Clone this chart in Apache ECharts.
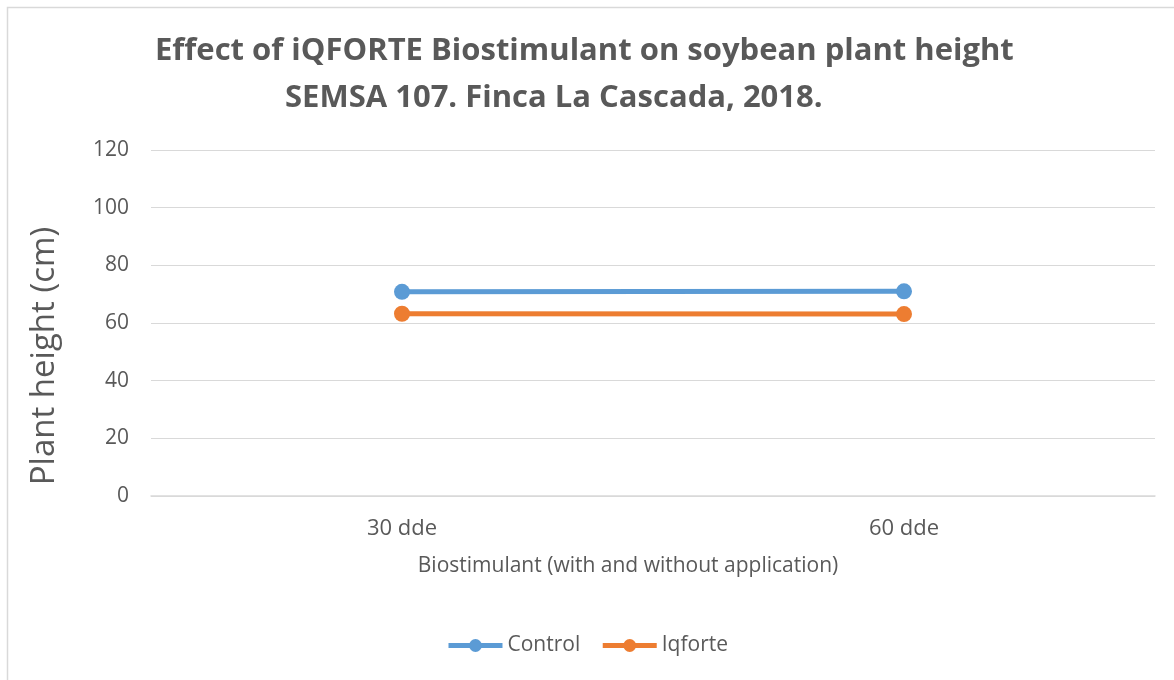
<!DOCTYPE html>
<html><head><meta charset="utf-8">
<script src="https://cdn.jsdelivr.net/npm/echarts@6/dist/echarts.min.js"></script>
<style>html,body{margin:0;padding:0;background:#fff}#c{width:1174px;height:680px}</style>
</head><body><div id="c"></div>
<script>
const categories = ['30 dde', '60 dde'];
const controlValues = [70.8, 71.0];
const iqforteValues = [63.2, 63.1];
const yTicks = {min: 0, max: 120, interval: 20};
const titleLine1 = 'Effect of iQFORTE Biostimulant on soybean plant height';
const titleLine2 = 'SEMSA 107. Finca La Cascada, 2018.';
const xName = 'Biostimulant (with and without application)';
const yName = 'Plant height (cm)';

const FONT = '"Open Sans", "Noto Sans", sans-serif';
const GRAY = '#595959';
const chart = echarts.init(document.getElementById('c'), null, {renderer: 'canvas'});
chart.setOption({
  animation: false,
  backgroundColor: '#fff',
  graphic: [
    {type: 'rect', left: 5, top: 5, shape: {width: 1200, height: 700}, style: {fill: 'none', stroke: '#d9d9d9', lineWidth: 1.5}, z: -1},
    {type: 'text', x: 45, y: 356, rotation: Math.PI / 2,
     style: {text: yName, fontFamily: FONT, fontSize: 33, fill: GRAY, align: 'center', verticalAlign: 'middle'}}
  ],
  title: [
    {text: titleLine1, left: 150, top: 31, textStyle: {fontFamily: FONT, fontWeight: 'bold', fontSize: 31, color: GRAY}},
    {text: titleLine2, left: 280, top: 78, textStyle: {fontFamily: FONT, fontWeight: 'bold', fontSize: 31, color: GRAY}}
  ],
  grid: {left: 151, right: 19, top: 150, bottom: 184},
  legend: {
    bottom: 19, left: 'center', itemWidth: 54, itemHeight: 16, itemGap: 20,
    lineStyle: {width: 5},
    textStyle: {fontFamily: FONT, fontSize: 21, color: GRAY},
    data: ['Control', 'Iqforte']
  },
  xAxis: {
    type: 'category', data: categories,
    name: xName, nameLocation: 'middle', nameGap: 60,
    nameTextStyle: {fontFamily: FONT, fontSize: 21, color: GRAY, padding: [0, 50, 0, 0]},
    axisLine: {lineStyle: {color: '#d9d9d9', width: 1.5}},
    axisTick: {show: false},
    axisLabel: {fontFamily: FONT, fontSize: 22, color: GRAY, margin: 22}
  },
  yAxis: {
    type: 'value', min: yTicks.min, max: yTicks.max, interval: yTicks.interval,
    axisLine: {show: false}, axisTick: {show: false},
    axisLabel: {fontFamily: FONT, fontSize: 21, color: GRAY, margin: 22},
    splitLine: {lineStyle: {color: '#d9d9d9', width: 1.2}}
  },
  series: [
    {name: 'Control', type: 'line', data: controlValues, symbol: 'circle', symbolSize: 16,
     lineStyle: {width: 5, color: '#5b9bd5'}, itemStyle: {color: '#5b9bd5'}},
    {name: 'Iqforte', type: 'line', data: iqforteValues, symbol: 'circle', symbolSize: 16,
     lineStyle: {width: 5, color: '#ed7d31'}, itemStyle: {color: '#ed7d31'}}
  ]
});
</script></body></html>
